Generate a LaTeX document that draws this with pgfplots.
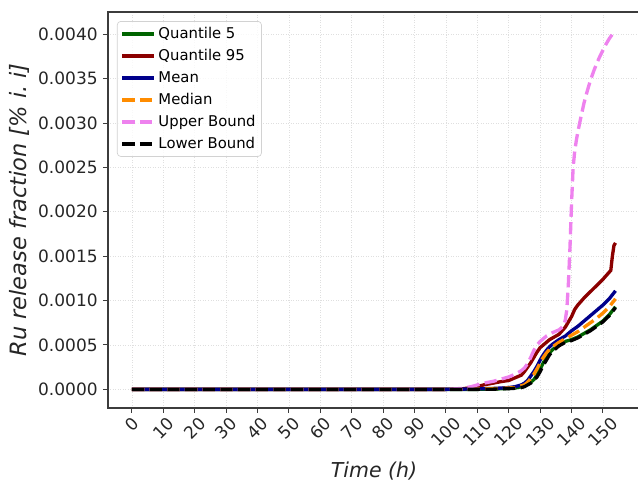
\documentclass[border=0pt]{standalone}
\usepackage{fontspec}
\setmainfont{DejaVu Sans}
\usepackage{graphicx}
\usepackage{pgfplots}
\pgfplotsset{compat=1.18}
\definecolor{spine}{RGB}{60,60,60}
\definecolor{qgreen}{RGB}{0,100,0}
\definecolor{qred}{RGB}{139,0,0}
\definecolor{qblue}{RGB}{0,0,139}
\definecolor{qorange}{RGB}{255,140,0}
\definecolor{qpink}{RGB}{238,130,238}
\begin{document}
\begin{tikzpicture}
\useasboundingbox (-64.8pt,-48.6pt) rectangle (318pt,244.8pt);
\begin{axis}[
  scale only axis, width=319.2pt, height=237.6pt,
  xmin=-7.64, xmax=161.8, ymin=-0.00021, ymax=0.004251,
  axis line style={spine, line width=0.9pt},
  tick align=outside, xtick pos=lower, ytick pos=left,
  major tick length=3pt, tick style={spine, line width=0.6pt},
  grid=major, grid style={gray!25, line width=0.5pt, densely dotted},
  xtick={0,10,...,150},
  xticklabels={\rotatebox{45}{0},\rotatebox{45}{10},\rotatebox{45}{20},\rotatebox{45}{30},\rotatebox{45}{40},\rotatebox{45}{50},\rotatebox{45}{60},\rotatebox{45}{70},\rotatebox{45}{80},\rotatebox{45}{90},\rotatebox{45}{100},\rotatebox{45}{110},\rotatebox{45}{120},\rotatebox{45}{130},\rotatebox{45}{140},\rotatebox{45}{150}},
  ytick={0,0.0005,0.001,0.0015,0.002,0.0025,0.003,0.0035,0.004},
  yticklabels={0.0000,0.0005,0.0010,0.0015,0.0020,0.0025,0.0030,0.0035,0.0040},
  scaled y ticks=false,
  xticklabel style={anchor=north, inner sep=0pt, yshift=-1.5pt, font=\fontsize{10.2}{12}\selectfont, text=black!85},
  yticklabel style={anchor=east, inner sep=0pt, xshift=-3pt, font=\fontsize{10.2}{12}\selectfont, text=black!85},
  xlabel={\itshape Time (h)},
  ylabel={\itshape Ru release fraction [\% i.\ i]},
  xlabel style={at={(axis description cs:0.5,-0.159)}, anchor=center, font=\fontsize{12.3}{14}\selectfont, text=black!85},
  ylabel style={at={(axis description cs:-0.1673,0.5)}, anchor=center, font=\fontsize{13.5}{16}\selectfont, text=black!85},
  legend cell align=left,
  legend image code/.code={\draw[#1] (0pt,0pt) -- (19.2pt,0pt);},
  legend style={at={(axis description cs:0.0169,0.977)}, anchor=north west,
    draw=gray!35, rounded corners=2pt, fill=white, fill opacity=0.8, text opacity=1,
    font=\fontsize{8.9}{10}\selectfont, inner xsep=2pt, inner ysep=1.5pt, row sep=1.2pt,
    nodes={inner sep=1.5pt, text height=7pt, text depth=2pt}},
  every axis plot/.append style={line width=2pt, no markers},
  ]
\addplot[qgreen] coordinates {(0,0) (100,0) (110,0) (115,0.000003) (120,0.00001) (122,0.000015) (124,0.00003) (125,0.00004) (126,0.00006) (127,0.00008) (128,0.00011) (129,0.00016) (130,0.00023) (131,0.0003) (132,0.00036) (133,0.00041) (134,0.00045) (136,0.0005) (138,0.00054) (140,0.00056) (142,0.00059) (144,0.00063) (146,0.00067) (148,0.00072) (150,0.00077) (152,0.00084) (154,0.00093)};
\addlegendentry{Quantile 5}
\addplot[qred] coordinates {(0,0) (100,0) (105,0.000005) (108,0.00002) (110,0.00003) (112,0.00005) (115,0.00007) (118,0.00009) (120,0.0001) (122,0.00013) (124,0.00016) (125,0.0002) (126,0.00025) (127,0.0003) (128,0.00036) (129,0.00042) (130,0.00047) (131,0.0005) (132,0.00053) (133,0.00056) (134,0.00058) (136,0.00062) (138,0.0007) (140,0.00082) (141,0.0009) (142,0.00095) (144,0.00103) (146,0.0011) (148,0.00117) (150,0.00124) (152,0.00132) (152.5,0.00134) (153,0.0015) (153.5,0.00162) (154,0.00165)};
\addlegendentry{Quantile 95}
\addplot[qblue] coordinates {(0,0) (100,0) (110,0.000005) (115,0.00001) (120,0.00002) (122,0.00003) (124,0.00005) (125,0.00007) (126,0.0001) (127,0.00015) (128,0.0002) (129,0.00026) (130,0.00033) (131,0.00039) (132,0.00044) (133,0.00048) (134,0.00051) (136,0.00056) (138,0.0006) (140,0.00066) (142,0.00071) (144,0.00077) (146,0.00083) (148,0.00089) (150,0.00095) (152,0.00102) (154,0.00111)};
\addlegendentry{Mean}
\addplot[qorange, dash pattern=on 7.4pt off 3.2pt] coordinates {(0,0) (100,0) (110,0.000003) (115,0.000008) (120,0.000015) (122,0.00002) (124,0.00004) (125,0.00005) (126,0.00008) (127,0.00012) (128,0.00017) (129,0.00023) (130,0.0003) (131,0.00036) (132,0.00041) (133,0.00045) (134,0.00048) (136,0.00053) (138,0.00057) (140,0.00061) (142,0.00065) (144,0.0007) (146,0.00075) (148,0.0008) (150,0.00086) (152,0.00093) (154,0.00102)};
\addlegendentry{Median}
\addplot[qpink, dash pattern=on 7.4pt off 3.2pt] coordinates {(0,0) (100,0) (105,0.00001) (108,0.00003) (110,0.00005) (112,0.00007) (115,0.00009) (118,0.00012) (120,0.00014) (122,0.00017) (124,0.00021) (125,0.00024) (126,0.00029) (127,0.00036) (128,0.00044) (129,0.0005) (130,0.00054) (131,0.00057) (132,0.0006) (133,0.00062) (134,0.00064) (136,0.00067) (137,0.0007) (137.5,0.00072) (138,0.00078) (138.5,0.0009) (139,0.0012) (139.5,0.0016) (140,0.0021) (140.5,0.0025) (141,0.00268) (141.5,0.0028) (142,0.0029) (143,0.00307) (144,0.00323) (145,0.00336) (146,0.00348) (147,0.00358) (148,0.00367) (149,0.00375) (150,0.00382) (151,0.00389) (152,0.00395) (153,0.004) (154,0.00404)};
\addlegendentry{Upper Bound}
\addplot[black, dash pattern=on 7.4pt off 3.2pt] coordinates {(0,0) (100,0) (110,0) (115,0.000002) (120,0.000008) (122,0.000012) (124,0.00002) (125,0.00003) (126,0.00005) (127,0.00007) (128,0.0001) (129,0.00014) (130,0.0002) (131,0.00027) (132,0.00033) (133,0.00039) (134,0.00043) (136,0.00049) (138,0.00053) (140,0.00055) (142,0.00058) (144,0.00062) (146,0.00066) (148,0.00071) (150,0.00076) (152,0.00083) (154,0.00092)};
\addlegendentry{Lower Bound}
\end{axis}
\end{tikzpicture}
\end{document}
